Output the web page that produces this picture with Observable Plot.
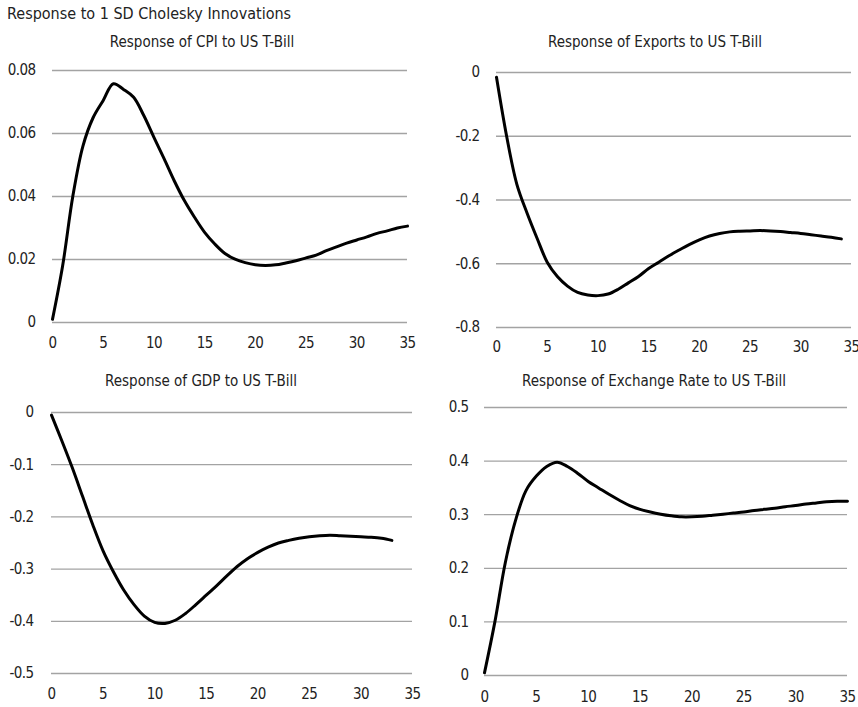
<!DOCTYPE html>
<html><head><meta charset="utf-8">
<script src="https://cdn.jsdelivr.net/npm/d3@7"></script>
<script src="https://cdn.jsdelivr.net/npm/@observablehq/plot@0.6"></script>
<style>
body{margin:0;background:#fff;}
#root{position:relative;width:858px;height:707px;overflow:hidden;font-family:"Liberation Sans Narrow","DejaVu Sans Condensed",sans-serif;color:#222;}
.t{position:absolute;white-space:nowrap;line-height:1;}
.p{position:absolute;}
svg text{letter-spacing:-0.6px;}
</style></head><body><div id="root"></div>
<script>
const mainTitle = "Response to 1 SD Cholesky Innovations";
const panelTitles = ["Response of CPI to US T-Bill","Response of Exports to US T-Bill","Response of GDP to US T-Bill","Response of Exchange Rate to US T-Bill"];
const xTicks = [0,5,10,15,20,25,30,35];

const cpi = [0.001,0.018,0.040,0.056,0.065,0.0705,0.0758,0.074,0.0715,0.0657,0.0588,0.052,0.045,0.0387,0.0334,0.0286,0.0249,0.0219,0.0201,0.019,0.0183,0.0181,0.0183,0.0189,0.0196,0.0205,0.0214,0.0228,0.024,0.0252,0.0262,0.0272,0.0283,0.0291,0.030,0.0306];
const exportsR = [-0.015,-0.20,-0.35,-0.44,-0.52,-0.595,-0.64,-0.67,-0.69,-0.698,-0.70,-0.695,-0.68,-0.66,-0.64,-0.615,-0.595,-0.575,-0.557,-0.54,-0.525,-0.513,-0.505,-0.50,-0.498,-0.497,-0.496,-0.497,-0.499,-0.502,-0.505,-0.509,-0.513,-0.517,-0.522];
const gdp = [-0.005,-0.054,-0.105,-0.16,-0.215,-0.265,-0.305,-0.34,-0.368,-0.39,-0.402,-0.404,-0.398,-0.385,-0.368,-0.35,-0.332,-0.313,-0.295,-0.28,-0.268,-0.258,-0.25,-0.245,-0.241,-0.238,-0.236,-0.235,-0.236,-0.237,-0.238,-0.239,-0.241,-0.245];
const exchange = [0.005,0.10,0.21,0.29,0.345,0.372,0.39,0.398,0.39,0.377,0.362,0.35,0.338,0.327,0.317,0.31,0.305,0.301,0.298,0.296,0.296,0.297,0.299,0.301,0.303,0.305,0.308,0.31,0.312,0.315,0.317,0.32,0.322,0.324,0.325,0.325];

const cpiTicks = [0,0.02,0.04,0.06,0.08];
const exportsTicks = [-0.8,-0.6,-0.4,-0.2,0];
const gdpTicks = [-0.5,-0.4,-0.3,-0.2,-0.1,0];
const exchangeTicks = [0,0.1,0.2,0.3,0.4,0.5];

const root = document.getElementById("root");
const FONT = '"Liberation Sans Narrow","DejaVu Sans Condensed",sans-serif';

function addText(txt, x, y, size, anchor) {
  const d = document.createElement("div");
  d.className = "t";
  d.textContent = txt;
  d.style.fontSize = size + "px";
  d.style.top = (y - size * 0.5) + "px";
  if (anchor === "middle") { d.style.left = x + "px"; d.style.transform = "translateX(-50%)"; }
  else d.style.left = x + "px";
  root.appendChild(d);
}

addText(mainTitle, 7, 14, 16, "start");

const panels = [
  {values: cpi, ticks: cpiTicks, title: panelTitles[0], left: 0, top: 55, width: 430, height: 300, mt: 15, mr: 23, mb: 33, ml: 52, ypad: 17, xpad: 15, tx: 202, ty: 42},
  {values: exportsR, ticks: exportsTicks, title: panelTitles[1], left: 430, top: 55, width: 428, height: 300, mt: 17, mr: 7, mb: 28, ml: 66, ypad: 17, xpad: 14, tx: 655, ty: 42},
  {values: gdp, ticks: gdpTicks, title: panelTitles[2], left: 0, top: 395, width: 430, height: 312, mt: 17, mr: 18, mb: 34, ml: 51, ypad: 18, xpad: 15, tx: 201, ty: 381},
  {values: exchange, ticks: exchangeTicks, title: panelTitles[3], left: 430, top: 390, width: 428, height: 317, mt: 17, mr: 11, mb: 32, ml: 54, ypad: 16, xpad: 16, tx: 654, ty: 381}
];

for (const p of panels) {
  const data = p.values.map((v, i) => ({t: i, v}));
  const chart = Plot.plot({
    width: p.width, height: p.height,
    marginTop: p.mt, marginRight: p.mr, marginBottom: p.mb, marginLeft: p.ml,
    style: {fontFamily: FONT, fontSize: "15px", color: "#222", background: "transparent", overflow: "visible"},
    x: {domain: [0, 35], ticks: xTicks, tickSize: 0, tickPadding: p.xpad, label: null, tickFormat: d => String(d)},
    y: {domain: [d3.min(p.ticks), d3.max(p.ticks)], ticks: p.ticks, tickSize: 0, tickPadding: p.ypad, label: null, tickFormat: d => String(d)},
    marks: [
      Plot.ruleY(p.ticks, {stroke: "#a3a3a3", strokeWidth: 1.3}),
      Plot.line(data, {x: "t", y: "v", stroke: "#000", strokeWidth: 3, curve: "catmull-rom"})
    ]
  });
  chart.classList.add("p");
  chart.style.left = p.left + "px";
  chart.style.top = p.top + "px";
  root.appendChild(chart);
  addText(p.title, p.tx, p.ty, 15, "middle");
}
</script>
</body></html>
